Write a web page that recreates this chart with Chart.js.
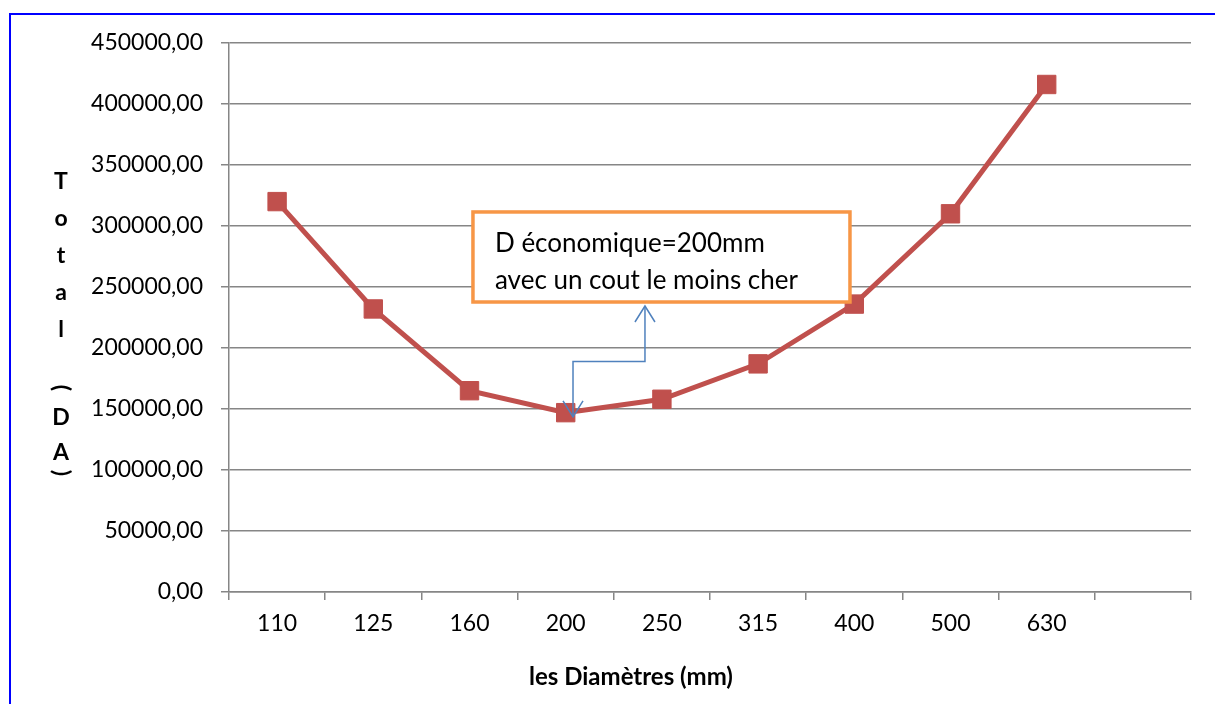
<!DOCTYPE html>
<html>
<head>
<meta charset="utf-8">
<script src="https://cdn.jsdelivr.net/npm/chart.js@4"></script>
<style>
  body { margin: 0; background: #fff; }
  #wrap { width: 1215px; height: 704px; position: relative; }
</style>
</head>
<body>
<div id="wrap"><canvas id="coutTotal"></canvas></div>
<script>
// diamètres étudiés et coût total correspondant (DA)
var diametres = ['110', '125', '160', '200', '250', '315', '400', '500', '630'];
var coutTotal = [320000, 232000, 165000, 147000, 158000, 187000, 236000, 310000, 416000];
var yTicks = [0, 50000, 100000, 150000, 200000, 250000, 300000, 350000, 400000, 450000];

var police = 'Lato, "Open Sans", sans-serif';

// une catégorie vide en bout d'axe, comme sur la feuille Excel
var labels = diametres.concat(['']);

// cadre bleu, titres et bulle "D économique"
var decor = {
    id: 'decor',
    beforeDraw: function (chart) {
        var ctx = chart.ctx;
        ctx.save();
        ctx.fillStyle = '#fff';
        ctx.fillRect(0, 0, chart.width, chart.height);
        ctx.strokeStyle = '#0000ff';
        ctx.lineWidth = 2;
        ctx.strokeRect(10, 14, chart.width + 20, chart.height + 20);
        ctx.restore();
    },
    afterDraw: function (chart) {
        var ctx = chart.ctx;
        var x = chart.scales.x, y = chart.scales.y;
        ctx.save();

        // titre Y écrit lettre par lettre
        ctx.fillStyle = '#000';
        ctx.font = 'bold 23px ' + police;
        ctx.textAlign = 'center';
        ctx.textBaseline = 'middle';
        var lettres = ['T', 'o', 't', 'a', 'l'];
        for (var i = 0; i < lettres.length; i++) {
            ctx.fillText(lettres[i], 61, 182 + i * 37);
        }
        ctx.fillText('D', 61, 418);
        ctx.fillText('A', 61, 453);
        [['(', 388], [')', 473]].forEach(function (p) {
            ctx.save();
            ctx.translate(61, p[1]);
            ctx.rotate(Math.PI / 2);
            ctx.fillText(p[0], 0, 0);
            ctx.restore();
        });

        // titre X
        ctx.font = 'bold 24px ' + police;
        ctx.fillText('les Diamètres (mm)', 631, 677);

        // connecteur coudé avec flèches
        var xBas = x.getPixelForValue(3.076);
        var xHaut = x.getPixelForValue(3.824);
        var yCoude = y.getPixelForValue(189000);
        var yPointe = y.getPixelForValue(143500);
        var yBoite = y.getPixelForValue(237700);
        ctx.strokeStyle = '#4f81bd';
        ctx.lineWidth = 1.5;
        ctx.beginPath();
        ctx.moveTo(xHaut, yBoite + 4);
        ctx.lineTo(xHaut, yCoude);
        ctx.lineTo(xBas, yCoude);
        ctx.lineTo(xBas, yPointe);
        ctx.stroke();
        ctx.beginPath();
        ctx.moveTo(xHaut - 10, yBoite + 20);
        ctx.lineTo(xHaut, yBoite + 4);
        ctx.lineTo(xHaut + 10, yBoite + 20);
        ctx.moveTo(xBas - 10, yPointe - 16);
        ctx.lineTo(xBas, yPointe);
        ctx.lineTo(xBas + 10, yPointe - 16);
        ctx.stroke();

        // bulle
        var bx1 = x.getPixelForValue(2.036), bx2 = x.getPixelForValue(5.955);
        var by1 = y.getPixelForValue(311500), by2 = yBoite;
        ctx.fillStyle = '#fff';
        ctx.fillRect(bx1, by1, bx2 - bx1, by2 - by1);
        ctx.strokeStyle = '#f79646';
        ctx.lineWidth = 3.5;
        ctx.strokeRect(bx1, by1, bx2 - bx1, by2 - by1);
        ctx.fillStyle = '#000';
        ctx.font = '26px ' + police;
        ctx.textAlign = 'left';
        ctx.fillText('D économique=200mm', bx1 + 22, by1 + 32);
        ctx.fillText('avec un cout le moins cher', bx1 + 22, by1 + 69);
        ctx.restore();
    }
};

var ctx = document.getElementById('coutTotal').getContext('2d');
var chart = new Chart(ctx, {
    type: 'line',
    data: {
        labels: labels,
        datasets: [{
            label: 'Total (DA)',
            data: coutTotal,
            borderColor: '#c0504d',
            backgroundColor: '#c0504d',
            borderWidth: 5,
            pointStyle: 'rect',
            pointRadius: 13,
            pointBorderWidth: 1,
            tension: 0
        }]
    },
    options: {
        responsive: true,
        maintainAspectRatio: false,
        animation: false,
        layout: { padding: { top: 43, right: 24, left: 0, bottom: 0 } },
        scales: {
            x: {
                offset: true,
                grid: { drawOnChartArea: false, offset: true, tickLength: 8, color: '#868686', lineWidth: 1.5 },
                border: { color: '#868686', width: 1.5 },
                ticks: { color: '#000', font: { family: police, size: 23 }, padding: 10, maxRotation: 0 },
                afterFit: function (s) { s.height = 112; }
            },
            y: {
                min: 0,
                max: 450000,
                afterBuildTicks: function (s) { s.ticks = yTicks.map(function (v) { return { value: v }; }); },
                grid: { color: '#868686', tickLength: 8, lineWidth: 1.5 },
                border: { color: '#868686', width: 1.5 },
                ticks: {
                    color: '#000',
                    font: { family: police, size: 23 },
                    padding: 18,
                    callback: function (v) { return v.toFixed(2).replace('.', ','); }
                },
                afterFit: function (s) { s.width = 229; }
            }
        },
        plugins: {
            legend: { display: false },
            tooltip: { enabled: false }
        }
    },
    plugins: [decor]
});
</script>
</body>
</html>
